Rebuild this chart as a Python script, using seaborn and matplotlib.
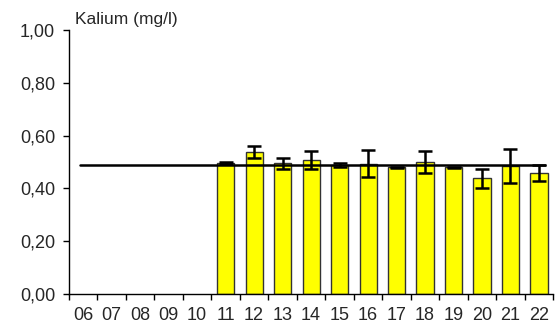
import numpy as np
import pandas as pd
import seaborn as sns
import matplotlib.pyplot as plt
from matplotlib.ticker import FixedLocator, FuncFormatter

years = ['06', '07', '08', '09', '10', '11', '12', '13', '14', '15', '16',
         '17', '18', '19', '20', '21', '22']
values = [np.nan, np.nan, np.nan, np.nan, np.nan, 0.495, 0.537, 0.495, 0.508,
          0.489, 0.494, 0.480, 0.501, 0.480, 0.438, 0.485, 0.459]
errors = [np.nan, np.nan, np.nan, np.nan, np.nan, 0.004, 0.022, 0.021, 0.035,
          0.006, 0.050, 0.003, 0.042, 0.003, 0.036, 0.064, 0.030]
mean_level = 0.487

df = pd.DataFrame({'year': years, 'value': values, 'err': errors})

sns.set_style('white')
plt.rcParams['font.family'] = ['Liberation Sans', 'DejaVu Sans']

fig = plt.figure(figsize=(5.56, 3.29), dpi=100)
ax = fig.add_axes([0.124, 0.106, 0.871, 0.803])

sns.barplot(data=df.dropna(), x='year', y='value', order=years, color='#ffff00',
            edgecolor='#333333', linewidth=1.0, width=0.6, saturation=1,
            errorbar=None, ax=ax)

pos = np.arange(len(years))
mask = ~np.isnan(df['value'].values)
ax.errorbar(pos[mask], df['value'].values[mask], yerr=df['err'].values[mask],
            fmt='none', ecolor='black', elinewidth=1.8, capsize=5, capthick=1.8,
            zorder=4)

# average line over the whole period
ax.plot([-0.1, len(years) - 0.8], [mean_level, mean_level], color='black',
        linewidth=1.8, zorder=5)

ax.set_xlim(-0.5, len(years) - 0.5)
ax.set_ylim(0, 1.0)
ax.set_yticks(np.arange(0, 1.01, 0.2))
ax.yaxis.set_major_formatter(FuncFormatter(lambda v, p: f'{v:.2f}'.replace('.', ',')))
ax.xaxis.set_minor_locator(FixedLocator(np.arange(-0.5, len(years), 1)))
ax.tick_params(axis='x', which='major', length=0, pad=9, labelsize=13)
ax.tick_params(axis='x', which='minor', length=4, width=1, color='black',
               direction='out', bottom=True)
ax.tick_params(axis='y', length=4, width=1, color='black', direction='out',
               left=True, labelsize=13, pad=6)
ax.set_xlabel('')
ax.set_ylabel('')

for s in ['top', 'right']:
    ax.spines[s].set_visible(False)
for s in ['left', 'bottom']:
    ax.spines[s].set_color('black')
    ax.spines[s].set_linewidth(1.0)

ax.text(0.012, 1.01, 'Kalium (mg/l)', transform=ax.transAxes, fontsize=12.5,
        ha='left', va='bottom')

fig.savefig('out.png', dpi=100)
